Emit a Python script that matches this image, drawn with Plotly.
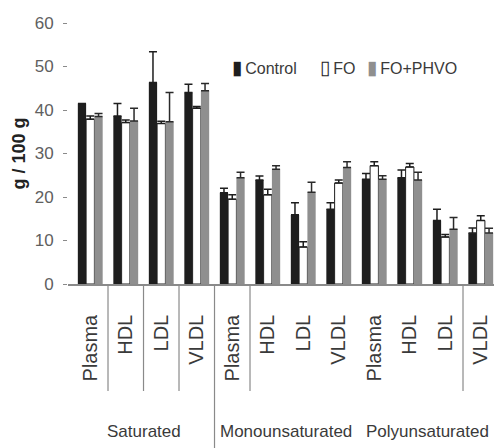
import plotly.graph_objects as go

categories = ["Plasma", "HDL", "LDL", "VLDL",
              "Plasma", "HDL", "LDL", "VLDL",
              "Plasma", "HDL", "LDL", "VLDL"]
groups = ["Saturated", "Monounsaturated", "Polyunsaturated"]

series_names = ["Control", "FO", "FO+PHVO"]
control = [41.5, 38.6, 46.3, 44.0, 21.0, 23.9, 15.9, 17.2, 24.1, 24.4, 14.6, 11.7]
control_err = [0.0, 2.9, 7.1, 1.9, 1.0, 0.9, 2.8, 1.5, 1.3, 1.8, 2.6, 1.2]
fo = [37.9, 37.1, 36.9, 40.4, 19.5, 20.5, 8.5, 23.2, 27.2, 26.9, 10.8, 14.6]
fo_err = [0.7, 0.6, 0.5, 0.4, 1.0, 1.3, 1.2, 0.7, 0.9, 0.8, 0.6, 1.1]
fophvo = [38.5, 37.5, 37.3, 44.4, 24.4, 26.4, 21.1, 26.8, 24.1, 23.9, 12.6, 11.7]
fophvo_err = [0.7, 2.9, 6.7, 1.7, 1.3, 0.8, 2.3, 1.3, 0.8, 1.8, 2.7, 1.1]

x = list(range(len(categories)))
SANS = "Liberation Sans, Arial, sans-serif"
DARK = "#1e1e1e"
GRAY = "#8f8f8f"

fig = go.Figure()

def add(name, vals, errs, fill, line, ecol):
    fig.add_trace(go.Bar(
        x=x, y=vals, name=name,
        marker=dict(color=fill, line=dict(color=line, width=1 if fill == "white" else 0)),
        error_y=dict(type="data", symmetric=False, array=errs,
                     arrayminus=[0] * len(errs), color=ecol, thickness=1.5, width=4),
    ))

add(series_names[0], control, control_err, DARK, DARK, DARK)
add(series_names[1], fo, fo_err, "white", DARK, DARK)
add(series_names[2], fophvo, fophvo_err, GRAY, GRAY, "#2a2a2a")

# separators (as in the original image)
short_seps = [0.5, 1.5, 2.5, 4.5, 10.5]
long_seps = [3.5]
for s in short_seps:
    fig.add_shape(type="line", xref="x", yref="paper", x0=s, x1=s, y0=0, y1=-0.41,
                  line=dict(color="#8a8a8a", width=1.2))
for s in long_seps:
    fig.add_shape(type="line", xref="x", yref="paper", x0=s, x1=s, y0=0, y1=-0.64,
                  line=dict(color="#8a8a8a", width=1.2))

for i, g in enumerate(groups):
    fig.add_annotation(x=i * 4 + 1.5, xref="x", y=-0.567, yref="paper",
                       text=g, showarrow=False, yanchor="middle",
                       font=dict(family=SANS, size=17, color="#3a3a3a"))

# legend drawn as text entries
legend_syms = ["<span style='color:%s;font-size:19px'>▮</span>" % DARK,
               "<span style='color:%s;font-size:19px'>▯</span>" % DARK,
               "<span style='color:%s;font-size:19px'>▮</span>" % GRAY]
legend_x = [0.380, 0.588, 0.698]
for sym, nm, lx in zip(legend_syms, series_names, legend_x):
    fig.add_annotation(x=lx, xref="paper", y=0.828, yref="paper", xanchor="left",
                       yanchor="middle", showarrow=False, text=sym + "\u2009" + nm,
                       font=dict(family=SANS, size=16, color="#3a3a3a"))

fig.update_layout(
    width=494, height=448,
    margin=dict(l=68, r=0, t=23, b=164),
    paper_bgcolor="white", plot_bgcolor="white",
    barmode="group", bargap=0.3, bargroupgap=0,
    showlegend=False,
    xaxis=dict(range=[-0.627, 11.373], tickmode="array", tickvals=x, ticktext=categories,
               tickangle=-90, showline=True, linecolor="#8a8a8a", linewidth=1.5,
               ticks="", showgrid=False, zeroline=False,
               tickfont=dict(family=SANS, size=20, color="#3a3a3a"),
               ticklabelstandoff=21),
    yaxis=dict(range=[0, 60], dtick=10, showline=False, showgrid=False, zeroline=False,
               ticks="outside", ticklen=4, tickcolor="#8a8a8a", tickwidth=1.2,
               tickfont=dict(family=SANS, size=17, color="#606060"),
               ticklabelstandoff=6,
               title=dict(text="<b>g / 100 g</b>", standoff=4,
                          font=dict(family=SANS, size=18, color="#222222"))),
)

fig.write_html("out.html", config={"displayModeBar": False},
               post_script="document.body.style.margin='0';document.body.style.overflow='hidden';")
